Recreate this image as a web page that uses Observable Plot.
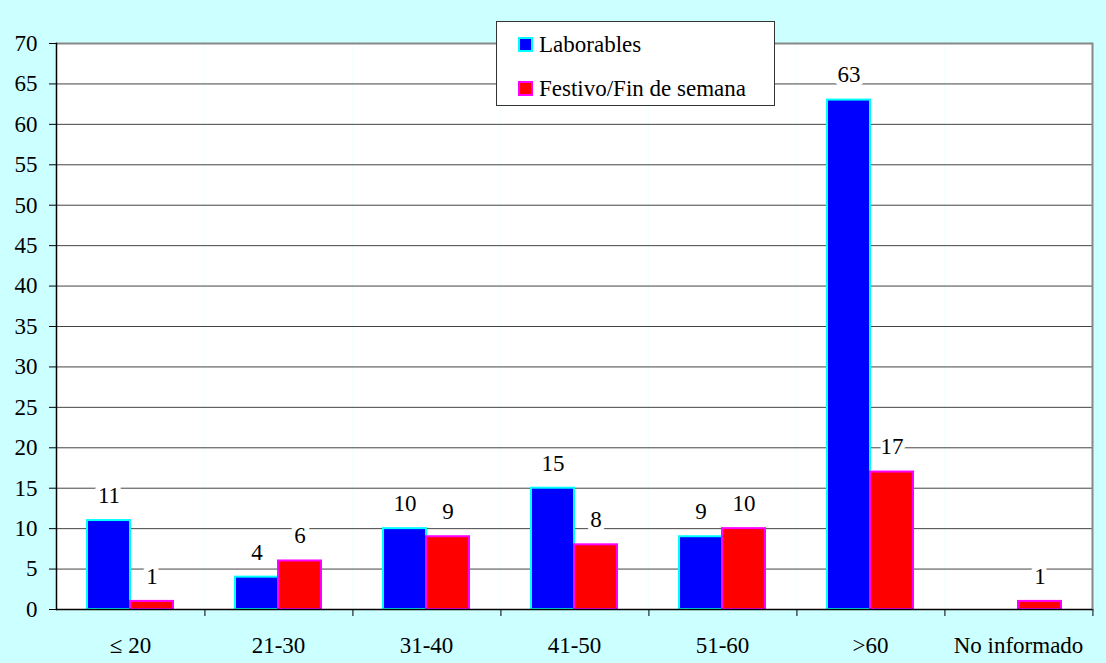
<!DOCTYPE html>
<html>
<head>
<meta charset="utf-8">
<script src="https://cdn.jsdelivr.net/npm/d3@7"></script>
<script src="https://cdn.jsdelivr.net/npm/@observablehq/plot@0.6"></script>
<style>
  html, body { margin: 0; padding: 0; background: #CCFFFF; }
  #wrap { position: relative; width: 1106px; height: 663px; font-family: "Liberation Serif", "Times New Roman", Times, "DejaVu Serif", serif; }
  #chart svg, #chart svg text { font-family: "Liberation Serif", "Times New Roman", Times, "DejaVu Serif", serif !important; }
  #legend { position: absolute; left: 496px; top: 21px; width: 279px; height: 85px; box-sizing: border-box;
            background: #fff; border: 1px solid #333; }
  .item { position: absolute; left: 21px; display: flex; align-items: center; font-size: 23px; color: #000; line-height: 1; }
  .sw { width: 15px; height: 15px; box-sizing: border-box; border: 2px solid; margin-right: 6px; }
</style>
</head>
<body>
<div id="wrap">
  <div id="chart"></div>
  <div id="legend"></div>
</div>
<script>
const categories = ["\u2264 20", "21-30", "31-40", "41-50", "51-60", ">60", "No informado"];
const seriesNames = ["Laborables", "Festivo/Fin de semana"];
const laborables = [11, 4, 10, 15, 9, 63, null];
const festivo = [1, 6, 9, 8, 10, 17, 1];
const yTicks = [0, 5, 10, 15, 20, 25, 30, 35, 40, 45, 50, 55, 60, 65, 70];
const fills = ["#0000FF", "#FF0000"];
const strokes = ["#00FFFF", "#FF00FF"];

const rows = [];
categories.forEach((c, i) => {
  [laborables, festivo].forEach((arr, j) => {
    if (arr[i] != null) rows.push({cat: c, series: seriesNames[j], value: arr[i]});
  });
});

const W = 1106, H = 663, mL = 53, mR = 11, mT = 43, mB = 54;
const half = (W - mL - mR) / categories.length / 2;

const chart = Plot.plot({
  width: W, height: H,
  marginLeft: mL, marginRight: mR, marginTop: mT, marginBottom: mB,
  style: {background: "#CCFFFF", fontSize: "22px", color: "#000"},
  fx: {domain: categories, padding: 0, label: null},
  x: {domain: seriesNames, paddingInner: 0, paddingOuter: 0.72, axis: null},
  y: {domain: [0, 70], label: null},
  marks: [
    Plot.frame({fill: "white", stroke: null}),
    Plot.gridY(yTicks, {stroke: "#444", strokeOpacity: 1}),
    Plot.gridY([70], {stroke: "#888", strokeOpacity: 1, strokeWidth: 2}),
    Plot.frame({anchor: "right", facetAnchor: "right", stroke: "#888", strokeWidth: 2}),
    Plot.frame({anchor: "left", facetAnchor: "left", stroke: "#000", strokeWidth: 1.5}),
    Plot.barY(rows.filter(d => d.series === seriesNames[0]), {fx: "cat", x: "series", y: "value", fill: fills[0], stroke: strokes[0], strokeWidth: 2}),
    Plot.barY(rows.filter(d => d.series === seriesNames[1]), {fx: "cat", x: "series", y: "value", fill: fills[1], stroke: strokes[1], strokeWidth: 2}),
    Plot.ruleY([0], {stroke: "#000", strokeWidth: 1.5}),
    Plot.text(rows, {fx: "cat", x: "series", y: "value", text: d => String(d.value), dy: -25,
      fill: "#000", stroke: "white", strokeWidth: 10, paintOrder: "stroke", fontSize: 23}),
    Plot.axisY(yTicks, {anchor: "left", tickSize: 7, tickPadding: 12, fontSize: 23, label: null}),
    Plot.axisFx({anchor: "bottom", tickSize: 0, tickPadding: 27, fontSize: 23, label: null}),
    Plot.axisFx({anchor: "bottom", tickSize: 7, text: null, dx: half, label: null})
  ]
});
document.getElementById("chart").appendChild(chart);

const legend = document.getElementById("legend");
seriesNames.forEach((name, j) => {
  const item = document.createElement("div");
  item.className = "item";
  item.style.top = (j === 0 ? 11 : 55) + "px";
  const sw = document.createElement("div");
  sw.className = "sw";
  sw.style.background = fills[j];
  sw.style.borderColor = strokes[j];
  const t = document.createElement("span");
  t.textContent = name;
  item.appendChild(sw);
  item.appendChild(t);
  legend.appendChild(item);
});
</script>
</body>
</html>
